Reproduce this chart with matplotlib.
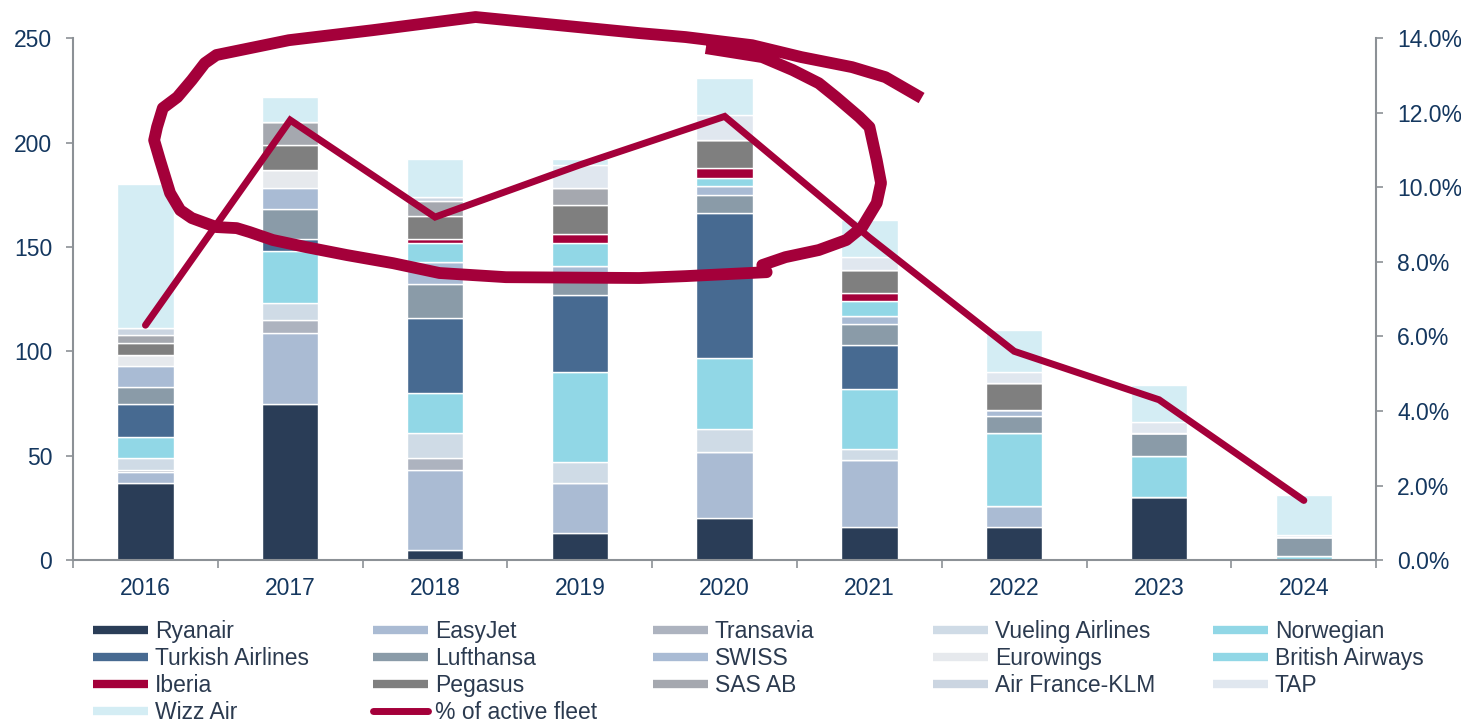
import matplotlib
matplotlib.use("Agg")
import matplotlib.pyplot as plt
from matplotlib.lines import Line2D
import numpy as np

plt.rcParams['font.family'] = ['Liberation Sans', 'DejaVu Sans']

years = ['2016', '2017', '2018', '2019', '2020', '2021', '2022', '2023', '2024']

# aircraft per airline
ryanair   = [37, 75, 5, 13, 20, 16, 16, 30, 0]
easyjet   = [5, 34, 38, 24, 32, 32, 10, 0, 0]
transavia = [1, 6, 6, 0, 0, 0, 0, 0, 0]
vueling   = [6, 8, 12, 10, 11, 5, 0, 0, 0]
norwegian = [10, 25, 19, 43, 34, 29, 35, 20, 2]
turkish   = [16, 6, 36, 37, 69, 21, 0, 0, 0]
lufthansa = [8, 14, 16, 10, 9, 10, 8, 11, 9]
swiss     = [10, 10, 11, 4, 4, 4, 3, 0, 0]
eurowings = [5, 9, 0, 0, 0, 0, 0, 0, 0]
british   = [0, 0, 9, 11, 4, 7, 0, 0, 0]
iberia    = [0, 0, 2, 4, 5, 4, 0, 0, 0]
pegasus   = [6, 12, 11, 14, 13, 11, 13, 0, 0]
sas       = [4, 11, 7, 8, 0, 0, 0, 0, 0]
afklm     = [3, 0, 2, 0, 0, 0, 0, 0, 0]
tap       = [0, 0, 0, 11, 12, 6, 5, 5, 1]
wizz      = [69, 12, 18, 3, 18, 18, 20, 18, 19]

active_fleet_pct = [6.3, 11.8, 9.2, 10.6, 11.9, 8.65, 5.6, 4.3, 1.6]

series = [
    ('Ryanair', ryanair, '#2a3d57'),
    ('EasyJet', easyjet, '#aabbd3'),
    ('Transavia', transavia, '#adb3bf'),
    ('Vueling Airlines', vueling, '#cfdbe6'),
    ('Norwegian', norwegian, '#91d7e6'),
    ('Turkish Airlines', turkish, '#476a91'),
    ('Lufthansa', lufthansa, '#8a9ba8'),
    ('SWISS', swiss, '#a9bbd4'),
    ('Eurowings', eurowings, '#e6e9ed'),
    ('British Airways', british, '#91d7e6'),
    ('Iberia', iberia, '#a4003a'),
    ('Pegasus', pegasus, '#7f7f7f'),
    ('SAS AB', sas, '#a5a8af'),
    ('Air France-KLM', afklm, '#cbd5e1'),
    ('TAP', tap, '#e0e7ef'),
    ('Wizz Air', wizz, '#d4edf4'),
]

# hand-drawn highlight loop (x in category units, y in left axis units)
annot_x = [3.87, 4.26, 4.47, 4.65, 4.77, 4.93, 5.00, 5.05, 5.08, 5.05, 4.95, 4.84,
           4.65, 4.42, 4.26, 4.29, 3.73, 3.41, 2.49, 2.03, 1.71, 1.39, 1.11, 0.88,
           0.72, 0.63, 0.49, 0.32, 0.24, 0.17, 0.10, 0.06, 0.08, 0.12, 0.22, 0.32,
           0.41, 0.49, 0.99, 1.57, 2.28, 3.41, 3.73, 4.19, 4.53, 4.88, 5.11, 5.36]
annot_y = [245.2, 240.9, 234.7, 228.4, 221.7, 212.2, 207.4, 191.6, 180.6, 171.0, 159.5, 153.3,
           148.5, 145.1, 141.3, 137.9, 136.0, 135.1, 135.5, 137.5, 142.2, 146.1, 149.9, 153.3,
           157.1, 159.0, 159.5, 163.8, 167.6, 175.8, 191.6, 201.1, 207.4, 216.5, 221.7, 229.9,
           238.0, 241.9, 249.0, 253.8, 260.1, 252.4, 250.5, 246.6, 240.9, 236.1, 231.3, 221.3]

line_red = '#a4003a'
tick_col = '#14375f'
spine_col = '#8c9196'

fig = plt.figure(figsize=(14.61, 7.19), dpi=100)
ax = fig.add_axes([0.05, 0.221, 0.892, 0.726])

x = np.arange(len(years))
bottom = np.zeros(len(years))
for name, vals, col in series:
    ax.bar(x, vals, width=0.39, bottom=bottom, color=col, edgecolor='white', linewidth=1.0)
    bottom += np.array(vals)

ax.set_xlim(-0.5, len(years) - 0.5)
ax.set_ylim(0, 250)
ax.set_yticks(range(0, 251, 50))
ax.set_xticks(x)
ax.set_xticklabels(years)
ax.set_xticks(np.arange(-0.5, len(years), 1.0), minor=True)
ax.tick_params(axis='x', which='major', length=0, pad=12, labelsize=16.5, labelcolor=tick_col)
ax.tick_params(axis='x', which='minor', length=6, width=1.2, color=spine_col)
ax.tick_params(axis='y', length=5, width=1.2, color=spine_col, pad=10, labelsize=16.5, labelcolor=tick_col)
for s in ['top', 'right']:
    ax.spines[s].set_visible(False)
for s in ['left', 'bottom']:
    ax.spines[s].set_color(spine_col)
    ax.spines[s].set_linewidth(1.5)

ax2 = ax.twinx()
ax2.plot(x, active_fleet_pct, color=line_red, lw=5, solid_capstyle='round', solid_joinstyle='miter')
ax2.set_ylim(0, 14)
ax2.set_yticks(np.arange(0, 14.1, 2))
ax2.set_yticklabels([f'{v:.1f}%' for v in np.arange(0, 14.1, 2)])
ax2.tick_params(axis='y', length=5, width=1.2, color=spine_col, pad=10, labelsize=16.5, labelcolor=tick_col)
for s in ['top', 'left', 'bottom']:
    ax2.spines[s].set_visible(False)
ax2.spines['right'].set_color(spine_col)
ax2.spines['right'].set_linewidth(1.5)

ax2.plot(annot_x, annot_y, color=line_red, lw=8.5, transform=ax.transData,
         clip_on=False, solid_capstyle='butt', solid_joinstyle='round')

# legend laid out row by row in five columns, like the source
handles = [Line2D([0], [0], color=col, lw=6, solid_capstyle='butt') for _, _, col in series]
labels = [name for name, _, _ in series]
handles.append(Line2D([0], [0], color=line_red, lw=5, solid_capstyle='round'))
labels.append('% of active fleet')

col_x = [93, 373, 653, 933, 1213]
for c in range(5):
    h = handles[c::5]
    l = labels[c::5]
    leg = fig.legend(h, l, loc='upper left', bbox_to_anchor=(col_x[c] / 1461, 1 - 620 / 719),
                     frameon=False, fontsize=16.5, handlelength=2.4, handletextpad=0.3,
                     labelspacing=0.17, borderpad=0, borderaxespad=0, labelcolor='#2b3a4f')

fig.savefig('out.png', dpi=100)
